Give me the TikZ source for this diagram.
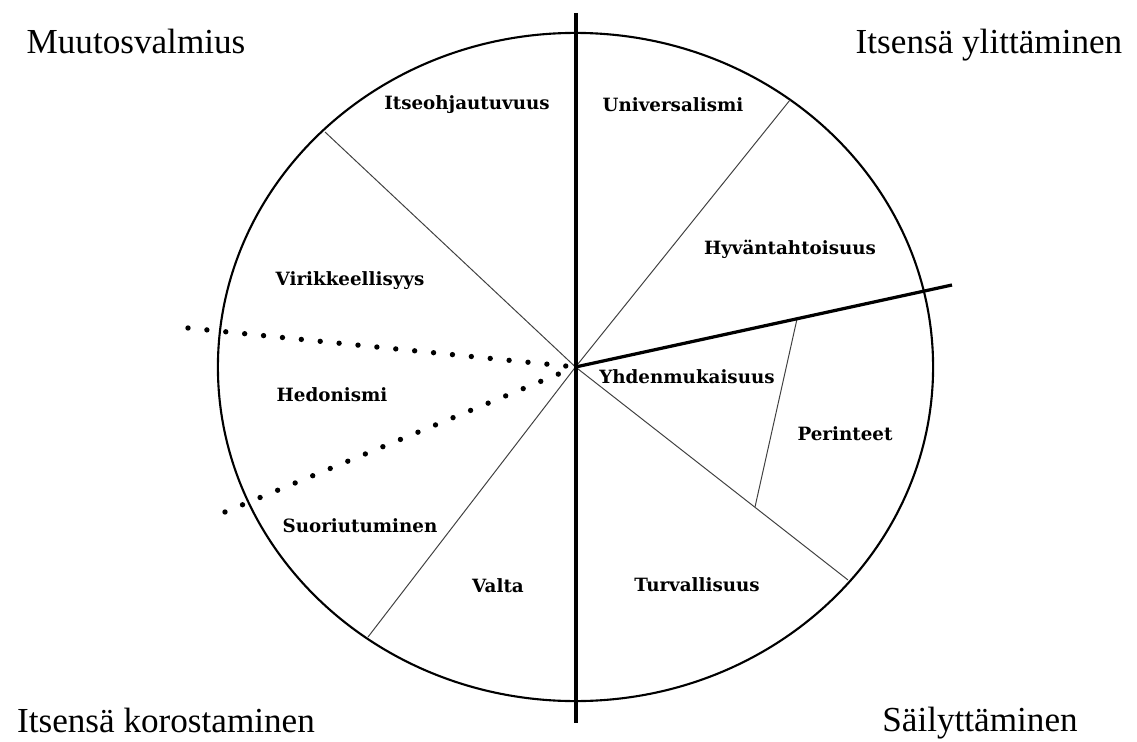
\documentclass[tikz,border=0pt]{standalone}
\usepackage{fontspec}
\setmainfont{Liberation Serif}
\newfontfamily\valfont{DejaVu Serif}

\begin{document}
\begin{tikzpicture}[x=0.025cm,y=-0.025cm]
	\tikzstyle{every node}+=[inner sep=0pt]
	\tikzstyle{valname}=[font=\valfont\bfseries\fontsize{13}{15}\selectfont]
	\tikzstyle{corner}=[font=\fontsize{25}{30}\selectfont]
	\tikzstyle{divider}=[draw=black!75, line width=0.7pt]
	\tikzstyle{axis}=[draw=black, line width=2.3pt]
	\tikzstyle{dots}=[draw=black, line width=3.8pt, line cap=round, dash pattern=on 0pt off 13.5pt]
	\useasboundingbox (0,0) rectangle (1137,742);
	% centre and end points
	\coordinate (c) at (575.5,367);
	\coordinate (top) at (576,13);
	\coordinate (bot) at (576,723);
	\coordinate (ur) at (790,100);
	\coordinate (ul) at (325,132);
	\coordinate (ll) at (368,637);
	\coordinate (lr) at (848,580);
	\coordinate (r) at (952,285);
	\coordinate (pa) at (797,319);
	\coordinate (pb) at (755,507);
	\coordinate (da) at (188,328);
	\coordinate (db) at (225,512);
	% circle
	\draw [black, line width=1.5pt] (c) ellipse [x radius=8.9375cm, y radius=8.35cm];
	% sectors
	\draw [divider] (c) -- (ur);
	\draw [divider] (c) -- (ul);
	\draw [divider] (c) -- (ll);
	\draw [divider] (c) -- (lr);
	\draw [divider] (pa) -- (pb);
	\draw [axis] (top) -- (bot);
	\draw [axis] (c) -- (r);
	\draw [dots] (da) -- (c);
	\draw [dots] (db) -- (c);
	% values
	\node [valname] (itse) at (467,105) {Itseohjautuvuus};
	\node [valname] (univ) at (673,105) {Universalismi};
	\node [valname] (hyva) at (790,249) {Hyväntahtoisuus};
	\node [valname] (viri) at (350,281) {Virikkeellisyys};
	\node [valname] (hedo) at (332,395) {Hedonismi};
	\node [valname] (yhde) at (687,377) {Yhdenmukaisuus};
	\node [valname] (peri) at (845,434) {Perinteet};
	\node [valname] (suor) at (360,526) {Suoriutuminen};
	\node [valname] (valt) at (498,586) {Valta};
	\node [valname] (turv) at (697,585) {Turvallisuus};
	% dimensions
	\node [corner] (muut) at (136,41) {Muutosvalmius};
	\node [corner] (ylit) at (989,45) {Itsensä ylittäminen};
	\node [corner] (koro) at (166,720) {Itsensä korostaminen};
	\node [corner] (sail) at (980,723) {Säilyttäminen};
\end{tikzpicture}
\end{document}
